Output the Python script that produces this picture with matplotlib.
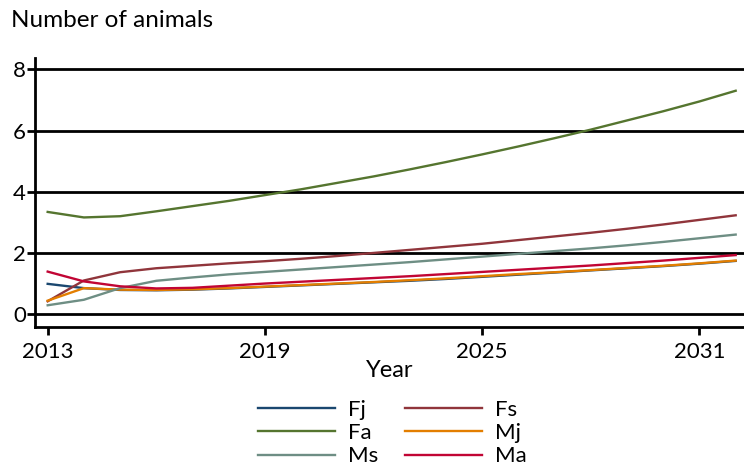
import numpy as np
import matplotlib
matplotlib.use("Agg")
import matplotlib.pyplot as plt

plt.rcParams['font.family'] = ['Lato', 'DejaVu Sans']

years = np.arange(2013, 2033)

Fj = [0.99, 0.85, 0.79, 0.78, 0.80, 0.84, 0.89, 0.94, 0.99, 1.04, 1.09, 1.15, 1.22, 1.29, 1.36, 1.43, 1.50, 1.57, 1.65, 1.74]
Fs = [0.42, 1.10, 1.37, 1.50, 1.58, 1.66, 1.73, 1.81, 1.90, 2.00, 2.10, 2.20, 2.30, 2.42, 2.54, 2.66, 2.79, 2.93, 3.08, 3.23]
Fa = [3.34, 3.16, 3.20, 3.36, 3.53, 3.70, 3.89, 4.08, 4.29, 4.50, 4.73, 4.97, 5.22, 5.48, 5.75, 6.03, 6.33, 6.63, 6.95, 7.30]
Mj = [0.44, 0.85, 0.80, 0.79, 0.81, 0.85, 0.90, 0.95, 1.00, 1.05, 1.11, 1.17, 1.24, 1.31, 1.37, 1.44, 1.51, 1.58, 1.66, 1.75]
Ms = [0.29, 0.47, 0.85, 1.09, 1.20, 1.30, 1.38, 1.46, 1.54, 1.62, 1.70, 1.79, 1.88, 1.97, 2.06, 2.15, 2.25, 2.36, 2.48, 2.60]
Ma = [1.39, 1.07, 0.91, 0.84, 0.86, 0.93, 1.00, 1.06, 1.12, 1.18, 1.24, 1.31, 1.38, 1.45, 1.52, 1.59, 1.67, 1.75, 1.84, 1.93]

series = [('Fj', Fj, '#1a476f'), ('Fs', Fs, '#90353b'), ('Fa', Fa, '#55752f'),
          ('Mj', Mj, '#e37e00'), ('Ms', Ms, '#6e8e84'), ('Ma', Ma, '#c10534')]

fig = plt.figure(figsize=(7.44, 4.74), dpi=100)
ax = fig.add_axes([35/744, 1 - 327/474, 1 - 35/744, (327 - 58)/474])

for y in [0, 2, 4, 6, 8]:
    ax.axhline(y, color='black', lw=2.0, zorder=1)

lines = {}
for name, vals, col in series:
    lines[name], = ax.plot(years, vals, color=col, lw=1.7, label=name, zorder=2)

ax.set_xlim(2012.65, 2032.23)
ax.set_ylim(-0.42, 8.37)
ax.set_xticks([2013, 2019, 2025, 2031])
ax.set_yticks([0, 2, 4, 6, 8])
for side in ['top', 'right']:
    ax.spines[side].set_visible(False)
for side in ['left', 'bottom']:
    ax.spines[side].set_linewidth(2.0)
ax.tick_params(axis='both', width=2.0, length=5.5, labelsize=16, color='black')
ax.tick_params(axis='x', pad=5)
ax.tick_params(axis='y', pad=1)
ax.set_xlabel('Year', fontsize=17, labelpad=-1)

fig.text(11/744, 1 - 27/474, 'Number of animals', fontsize=17.5, va='baseline', ha='left')

order = ['Fj', 'Fa', 'Ms', 'Fs', 'Mj', 'Ma']
fig.legend([lines[n] for n in order], order, ncol=2, frameon=False,
           loc='center', bbox_to_anchor=(392/744, 1 - 433/474),
           fontsize=16, handlelength=3.5, handletextpad=0.55,
           columnspacing=1.2, labelspacing=0.15, borderpad=0)

fig.savefig('out.png', dpi=100)
